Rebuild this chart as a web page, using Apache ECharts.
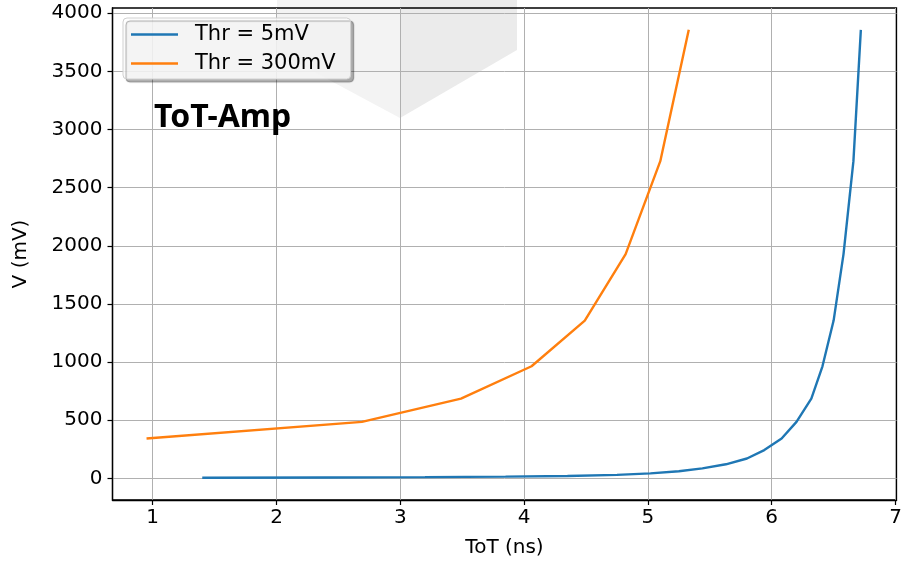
<!DOCTYPE html>
<html>
<head>
<meta charset="utf-8">
<script src="https://cdn.jsdelivr.net/npm/echarts@6/dist/echarts.min.js"></script>
<style>
    html, body { margin: 0; padding: 0; background: #fff; }
    #chart { width: 907px; height: 563px; }
</style>
</head>
<body>
<div id="chart"></div>
<script>
// ToT (ns) vs V (mV)
const thr5Tot = [1.40, 2.40, 3.20, 3.85, 4.35, 4.75, 5.02, 5.25, 5.44, 5.63, 5.80, 5.94, 6.08, 6.20, 6.32, 6.41, 6.50, 6.58, 6.66, 6.72];
const thr5Amp = [5.3, 7.5, 10.6, 15, 21, 30, 43, 61, 86, 121, 171, 243, 343, 486, 686, 964, 1357, 1929, 2728, 3857];
const thr300Tot = [0.95, 2.69, 3.49, 4.06, 4.49, 4.82, 5.10, 5.33];
const thr300Amp = [343, 486, 686, 964, 1357, 1929, 2728, 3857];
const xTicks = [1, 2, 3, 4, 5, 6, 7];
const yTicks = [0, 500, 1000, 1500, 2000, 2500, 3000, 3500, 4000];

const FONT = 'DejaVu Sans';
const FONT_SIZE = 20;
const GRID_LINE = { show: true, lineStyle: { color: '#b0b0b0', width: 1 } };

function pairs(xs, ys) {
    return xs.map((x, i) => [x, ys[i]]);
}

const chart = echarts.init(document.getElementById('chart'));

chart.setOption({
    animation: false,
    backgroundColor: '#fff',
    grid: {
        left: 112.5,
        right: 10.5,
        top: 8,
        bottom: 61.5,
        show: true,
        borderColor: '#000',
        borderWidth: 1.3,
        backgroundColor: 'transparent'
    },
    graphic: [
        {
            type: 'polygon',
            z: -10,
            silent: true,
            shape: { points: [[277, 0], [400, 0], [400, 118], [277, 52]] },
            style: { fill: '#f3f3f3' }
        },
        {
            type: 'polygon',
            z: -10,
            silent: true,
            shape: { points: [[400, 0], [517, 0], [517, 50], [400, 118]] },
            style: { fill: '#ebebeb' }
        },
        {
            type: 'text',
            left: 154,
            top: 102,
            z: 100,
            style: {
                text: 'ToT-Amp',
                font: 'bold 32px "Noto Sans"',
                fill: '#000'
            }
        }
    ],
    legend: {
        orient: 'vertical',
        left: 123,
        top: 18,
        padding: [6, 15, 5, 8],
        itemWidth: 47,
        itemHeight: 2.5,
        itemGap: 8,
        icon: 'rect',
        backgroundColor: 'rgba(255,255,255,0.85)',
        borderColor: '#d0d0d0',
        borderWidth: 1,
        borderRadius: 4,
        shadowColor: 'rgba(0,0,0,0.35)',
        shadowOffsetX: 3,
        shadowOffsetY: 3,
        shadowBlur: 1,
        textStyle: {
            fontFamily: FONT,
            fontSize: 21,
            color: '#000',
            lineHeight: 20,
            padding: [0, 0, 0, 12]
        },
        data: ['Thr = 5mV', 'Thr = 300mV']
    },
    xAxis: {
        type: 'value',
        min: 0.675,
        max: 7.008,
        splitNumber: 6,
        name: 'ToT (ns)',
        nameLocation: 'middle',
        nameGap: 38,
        nameTextStyle: { fontFamily: FONT, fontSize: FONT_SIZE, color: '#000' },
        axisLine: { show: true, onZero: false, lineStyle: { color: '#000', width: 1.3 } },
        axisTick: { show: true, customValues: xTicks, length: 5, lineStyle: { color: '#000', width: 1.2 } },
        axisLabel: { customValues: xTicks, fontFamily: FONT, fontSize: FONT_SIZE, color: '#000', margin: 8 },
        splitLine: GRID_LINE
    },
    yAxis: {
        type: 'value',
        min: -186,
        max: 4045,
        splitNumber: 8,
        name: 'V (mV)',
        nameLocation: 'middle',
        nameGap: 82,
        nameTextStyle: { fontFamily: FONT, fontSize: FONT_SIZE, color: '#000' },
        axisLine: { show: true, onZero: false, lineStyle: { color: '#000', width: 1.3 } },
        axisTick: { show: true, customValues: yTicks, length: 5, lineStyle: { color: '#000', width: 1.2 } },
        axisLabel: {
            customValues: yTicks,
            formatter: value => String(value),
            fontFamily: FONT,
            fontSize: FONT_SIZE,
            color: '#000',
            margin: 10
        },
        splitLine: GRID_LINE
    },
    series: [
        {
            name: 'Thr = 5mV',
            type: 'line',
            data: pairs(thr5Tot, thr5Amp),
            showSymbol: false,
            symbol: 'none',
            color: '#1f77b4',
            lineStyle: { width: 2.4, color: '#1f77b4' },
            z: 3
        },
        {
            name: 'Thr = 300mV',
            type: 'line',
            data: pairs(thr300Tot, thr300Amp),
            showSymbol: false,
            symbol: 'none',
            color: '#ff7f0e',
            lineStyle: { width: 2.4, color: '#ff7f0e' },
            z: 3
        }
    ]
});
</script>
</body>
</html>
